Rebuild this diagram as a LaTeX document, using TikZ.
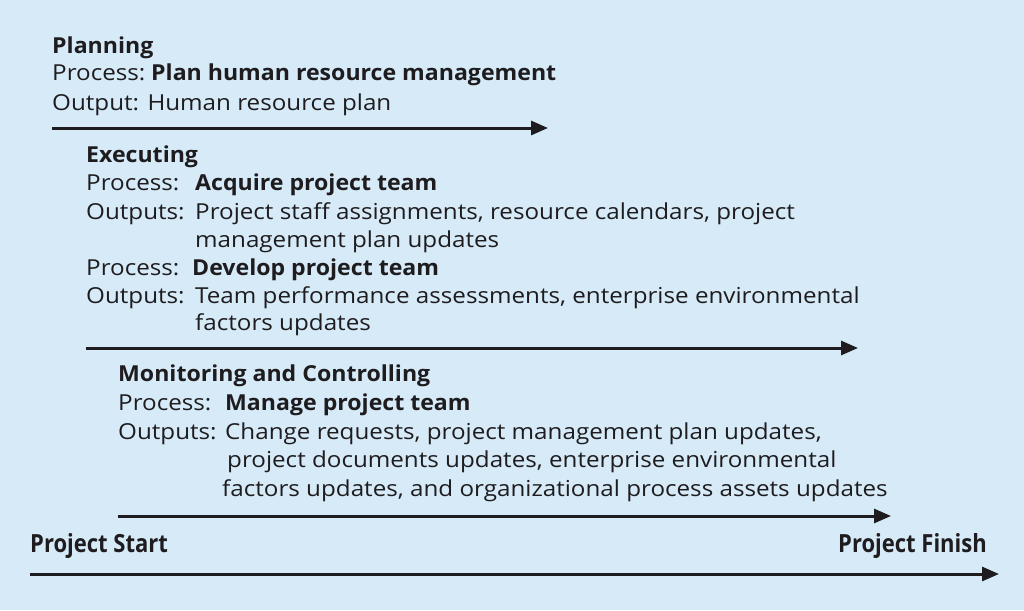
\documentclass[tikz,border=0pt]{standalone}
\usepackage{fontspec}
\setmainfont{Open Sans}
\newfontfamily\regfam{Open Sans}[FakeStretch=1.1]
\newfontfamily\boldfam{Open Sans}[FakeStretch=1.05]
\newfontfamily\condfam{Open Sans}[FakeStretch=0.88]
\usetikzlibrary{arrows.meta}
\definecolor{bgblue}{RGB}{214,234,248}
\definecolor{ink}{RGB}{30,28,30}
\tikzset{
  txt/.style={anchor=base west, inner sep=0pt, text=ink, font=\regfam\fontsize{22}{26}\selectfont},
  hdr/.style={anchor=base west, inner sep=0pt, text=ink, font=\boldfam\fontsize{22}{26}\selectfont\bfseries},
  endlbl/.style={inner sep=0pt, text=ink, font=\condfam\fontsize{25}{30}\selectfont\bfseries},
  bar/.style={draw=ink, line width=3pt, -{Triangle[length=17pt,width=14pt]}}
}
\begin{document}
\begin{tikzpicture}[x=1pt,y=-1pt]
\fill[bgblue] (0,0) rectangle (1024,610);
\useasboundingbox (0,0) rectangle (1024,610);
% Planning
\node[hdr] (p1) at (52,53) {Planning};
\node[txt] (p2) at (52,80) {Process:};
\node[hdr] (p2b) at (151,80) {Plan human resource management};
\node[txt] (p3) at (52,110) {Output: Human resource plan};
\coordinate (a1s) at (52,128);
\coordinate (a1e) at (548,128);
\draw[bar] (a1s) -- (a1e);
% Executing
\node[hdr] (e1) at (86,162) {Executing};
\node[txt] (e2) at (86,190) {Process:};
\node[hdr] (e2b) at (195,190) {Acquire project team};
\node[txt] (e3) at (86,219) {Outputs:};
\node[txt] (e3b) at (195,219) {Project staff assignments, resource calendars, project};
\node[txt] (e4) at (195,247) {management plan updates};
\node[txt] (e5) at (86,275) {Process:};
\node[hdr] (e5b) at (192,275) {Develop project team};
\node[txt] (e6) at (86,303) {Outputs:};
\node[txt] (e6b) at (195,303) {Team performance assessments, enterprise environmental};
\node[txt] (e7) at (195,330) {factors updates};
\coordinate (a2s) at (86,348);
\coordinate (a2e) at (858,348);
\draw[bar] (a2s) -- (a2e);
% Monitoring and Controlling
\node[hdr] (m1) at (118,381) {Monitoring and Controlling};
\node[txt] (m2) at (118,410) {Process:};
\node[hdr] (m2b) at (225,410) {Manage project team};
\node[txt] (m3) at (118,439) {Outputs:};
\node[txt] (m3b) at (225,439) {Change requests, project management plan updates,};
\node[txt] (m4) at (227,467) {project documents updates, enterprise environmental};
\node[txt] (m5) at (222,496) {factors updates, and organizational process assets updates};
\coordinate (a3s) at (118,516);
\coordinate (a3e) at (891,516);
\draw[bar] (a3s) -- (a3e);
% Project timeline
\node[endlbl, anchor=base west] (ps) at (30,552) {Project Start};
\node[endlbl, anchor=base east] (pf) at (987,552) {Project Finish};
\coordinate (a4s) at (30,574);
\coordinate (a4e) at (999,574);
\draw[bar] (a4s) -- (a4e);
\end{tikzpicture}
\end{document}
